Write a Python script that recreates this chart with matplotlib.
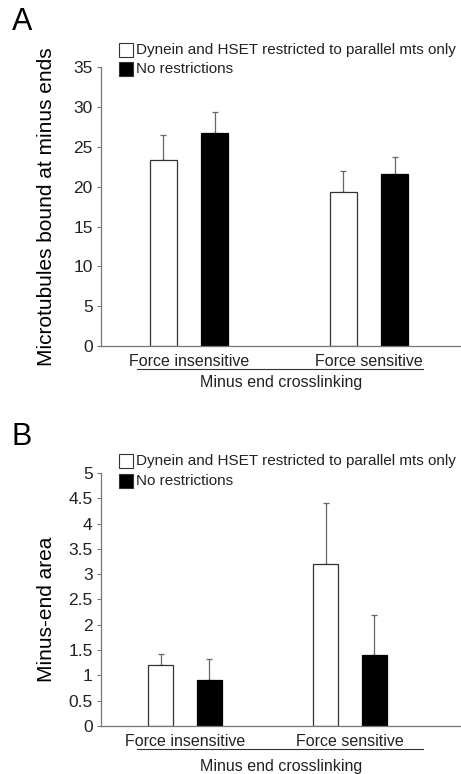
import numpy as np
import matplotlib.pyplot as plt
from matplotlib.patches import Rectangle

plt.rcParams['font.family'] = ['Liberation Sans', 'DejaVu Sans']

categories = ['Force insensitive', 'Force sensitive']
series = ['Dynein and HSET restricted to parallel mts only', 'No restrictions']

# panel A: microtubules bound at minus ends
a_restricted = [23.3, 19.4]
a_restricted_err = [3.2, 2.6]
a_none = [26.8, 21.6]
a_none_err = [2.6, 2.1]

# panel B: minus-end area
b_restricted = [1.2, 3.2]
b_restricted_err = [0.22, 1.21]
b_none = [0.9, 1.4]
b_none_err = [0.43, 0.8]

W, H = 461, 774
fig = plt.figure(figsize=(W / 100, H / 100), dpi=100)


def panel(rect, letter, letter_y, vals1, err1, vals2, err2, ylim, yticks, ylabel,
          width, off, xlim, line_y, group_y, legend_px, ylabel_y):
    ax = fig.add_axes(rect)
    x = np.arange(len(categories))
    ax.bar(x - off, vals1, width, color='white', edgecolor='#333333', linewidth=0.9, zorder=2)
    ax.bar(x + off, vals2, width, color='black', edgecolor='black', linewidth=0.9, zorder=2)
    ax.errorbar(x - off, vals1, yerr=[np.zeros(len(x)), err1], fmt='none',
                ecolor='#666666', elinewidth=0.9, capsize=2.5, capthick=0.9, zorder=1)
    ax.errorbar(x + off, vals2, yerr=[np.zeros(len(x)), err2], fmt='none',
                ecolor='#666666', elinewidth=0.9, capsize=2.5, capthick=0.9, zorder=1)
    ax.set_xlim(*xlim)
    ax.set_ylim(*ylim)
    ax.set_yticks(yticks)
    ax.set_yticklabels([('%g' % t) for t in yticks], fontsize=12.5, color='#222222')
    ax.set_xticks(x)
    ax.set_xticklabels(categories, fontsize=11.5, color='#222222')
    ax.tick_params(axis='x', length=0, pad=6)
    ax.tick_params(axis='y', length=3, width=0.8, color='#777777', pad=3)
    for s in ['top', 'right']:
        ax.spines[s].set_visible(False)
    for s in ['left', 'bottom']:
        ax.spines[s].set_color('#777777')
        ax.spines[s].set_linewidth(0.9)
    ax.set_ylabel(ylabel, fontsize=15)
    ax.yaxis.set_label_coords(-0.125, ylabel_y)
    # group line and group label
    ax.plot([0.1, 0.895], [line_y, line_y], transform=ax.transAxes, color='#333333',
            linewidth=0.8, clip_on=False)
    ax.text(0.5, group_y, 'Minus end crosslinking', transform=ax.transAxes,
            ha='center', va='center', fontsize=11.5, color='#222222')
    # legend drawn as squares + text, placed in figure pixels
    for py, lab, fc in zip(legend_px, series, ['white', 'black']):
        fig.add_artist(Rectangle((119 / W, 1 - (py + 7) / H), 14 / W, 14 / H,
                                 transform=fig.transFigure, facecolor=fc,
                                 edgecolor='#333333', linewidth=0.8))
        fig.text(136 / W, 1 - py / H, lab, ha='left', va='center',
                 fontsize=11, color='#222222')
    fig.text(0.025, letter_y, letter, fontsize=22, ha='left', va='center')
    return ax


panel([0.219, 0.553, 0.781, 0.360], 'A', 0.971, a_restricted, a_restricted_err,
      a_none, a_none_err, (0, 35), np.arange(0, 36, 5),
      'Microtubules bound at minus ends', 0.15, 0.144, (-0.489, 1.511),
      -0.083, -0.132, [50, 69], 0.5)

panel([0.219, 0.062, 0.781, 0.327], 'B', 0.436, b_restricted, b_restricted_err,
      b_none, b_none_err, (0, 5), np.arange(0, 5.01, 0.5),
      'Minus-end area', 0.152, 0.148, (-0.509, 1.673),
      -0.091, -0.158, [461, 481], 0.46)

fig.savefig('out.png', dpi=100)
